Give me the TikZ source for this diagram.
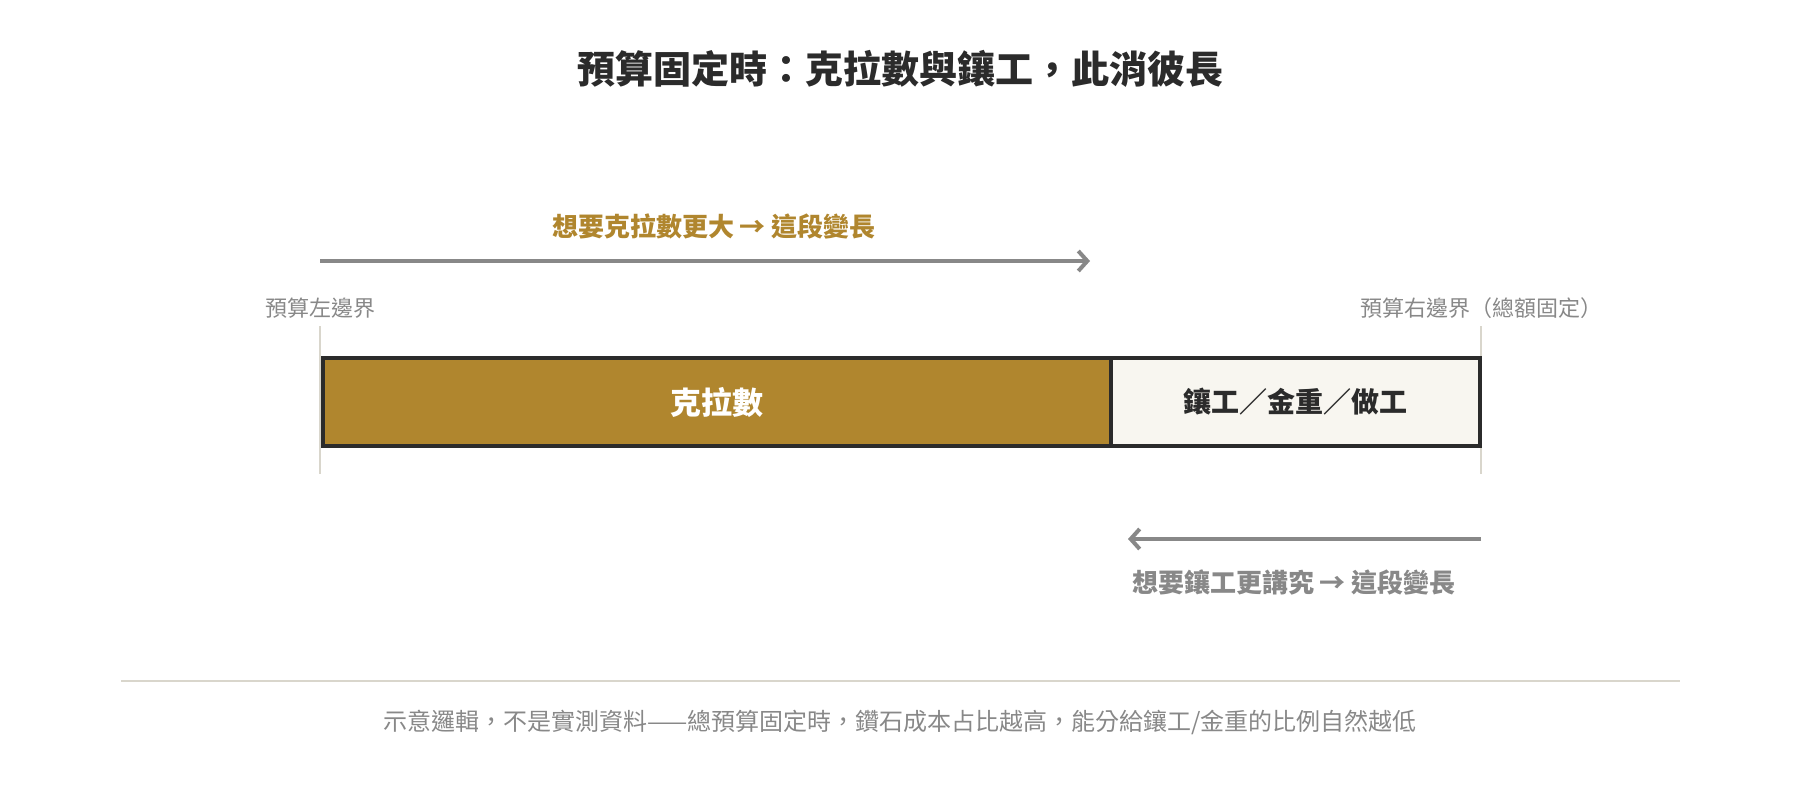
\documentclass[tikz,border=0pt]{standalone}
\usepackage{fontspec}
\usepackage{tikz}
\usetikzlibrary{arrows.meta,positioning}
\newfontfamily\cjk{Noto Sans CJK TC}
\definecolor{gold}{HTML}{B0862E}
\definecolor{ink}{HTML}{2B2B2B}
\definecolor{cream}{HTML}{F8F6F0}
\definecolor{mute}{HTML}{888888}
\definecolor{hairline}{HTML}{D9D6CC}
\tikzset{
	% ---- default
	every node/.style={font=\cjk, inner sep=0pt},
	every picture/.style={x=1pt, y=-1pt},
	% ---- custom
	headline/.style={font=\cjk\bfseries\fontsize{38}{44}\selectfont, text=ink},
	hint/.style={font=\cjk\bfseries\fontsize{26}{30}\selectfont},
	edge label/.style={font=\cjk\fontsize{22}{26}\selectfont, text=mute},
	note/.style={font=\cjk\fontsize{24}{28}\selectfont, text=mute},
	segment/.style={draw=ink, line width=4pt, minimum height=88pt, anchor=north west},
	boundary/.style={line width=2pt, hairline},
	shift arrow/.style={line width=4pt, mute, -{Straight Barb[length=9pt, width=20pt]}},
}

\begin{document}
\begin{tikzpicture}

% canvas %{{{2

	\useasboundingbox (0,0) rectangle (1800,800);

% coordinates %{{{2

	\coordinate (L top) at (320,326);
	\coordinate (L bot) at (320,474);
	\coordinate (R top) at (1481,326);
	\coordinate (R bot) at (1481,474);
	\coordinate (T end) at (1090,261);
	\coordinate (B end) at (1128,539);
	\coordinate (rule L) at (121,681);
	\coordinate (rule R) at (1680,681);

% boundaries %{{{2

	\draw[boundary] (L top) -- (L bot);
	\draw[boundary] (R top) -- (R bot);

% bar %{{{2

	\node[segment, fill=gold, minimum width=788pt, text=white,
		font=\cjk\bfseries\fontsize{31}{36}\selectfont]
		(carat) at (321,356) {克拉數};
	\node[segment, fill=cream, minimum width=369pt, text=ink,
		font=\cjk\bfseries\fontsize{28}{32}\selectfont]
		(craft) at (1109,356) {鑲工／金重／做工};

% labels %{{{2

	\node[headline] (title) at (900,69) {預算固定時：克拉數與鑲工，此消彼長};
	\node[edge label, above=7pt of L top] (left edge) {預算左邊界};
	\node[edge label, above=7pt of R top] (right edge) {預算右邊界（總額固定）};

% arrows %{{{2

	\coordinate (T start) at (320,261);
	\coordinate (B start) at (1481,539);
	\draw[shift arrow] (T start) -- (T end);
	\draw[shift arrow] (B start) -- (B end);

	\node[hint, text=gold] (grow carat) at (714,226) {想要克拉數更大 → 這段變長};
	\node[hint, text=mute] (grow craft) at (1294,582) {想要鑲工更講究 → 這段變長};

% footnote %{{{2

	\draw[line width=2pt, hairline] (rule L) -- (rule R);
	\node[note] (footnote) at (900,722)
		{示意邏輯，不是實測資料——總預算固定時，鑽石成本占比越高，能分給鑲工/金重的比例自然越低};

% closing %{{{2

\end{tikzpicture}
\end{document}
